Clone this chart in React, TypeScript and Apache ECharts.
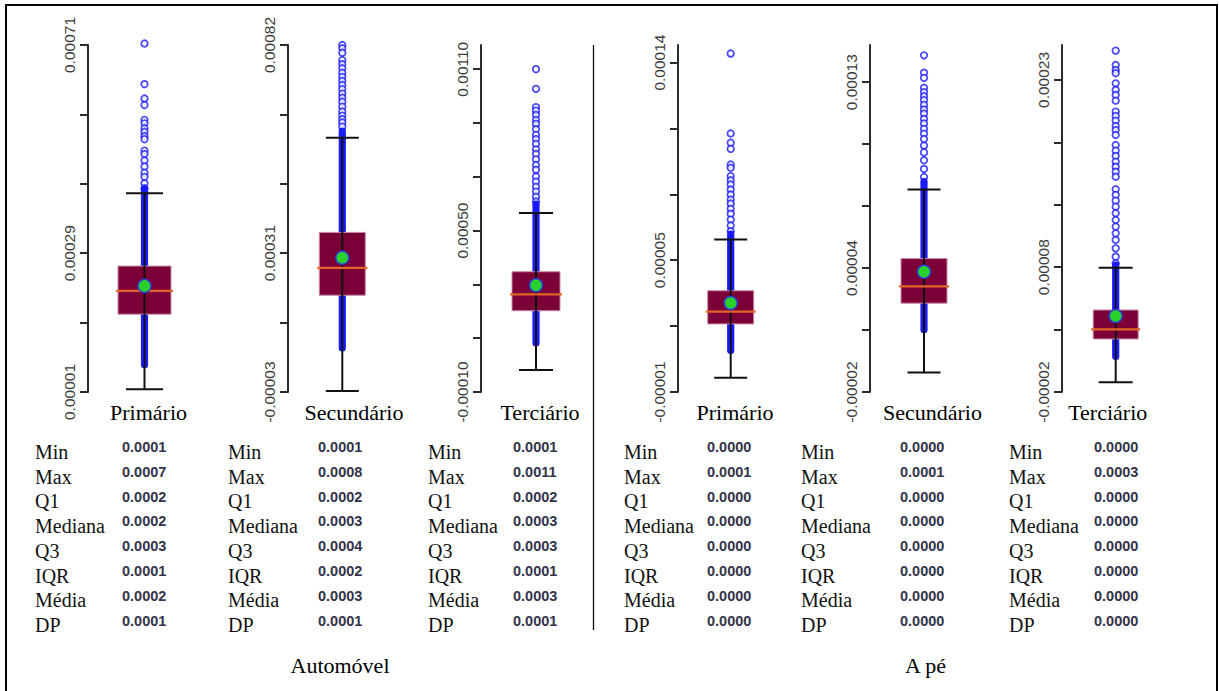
import React, { useEffect, useRef } from "react";
import * as echarts from "echarts";

// ---------- data ----------
const categories = ["Primário", "Secundário", "Terciário"];
const groups = ["Automóvel", "A pé"];
const statNames = ["Min", "Max", "Q1", "Mediana", "Q3", "IQR", "Média", "DP"];

// panel order: Automóvel (Primário, Secundário, Terciário), A pé (Primário, Secundário, Terciário)
const panelCategory = [0, 1, 2, 0, 1, 2];

const yMin = [0.00001, -0.00003, -0.0001, -0.00001, -0.00002, -0.00002];
const yMax = [0.00071, 0.00082, 0.00119, 0.000148, 0.000148, 0.000258];

const tickValues = [
  [0.00001, 0.00015, 0.00029, 0.00043, 0.00057, 0.00071],
  [-0.00003, 0.00014, 0.00031, 0.00048, 0.00065, 0.00082],
  [-0.0001, 0.0001, 0.0003, 0.0005, 0.0007, 0.0009, 0.0011],
  [-0.00001, 0.00002, 0.00005, 0.00008, 0.00011, 0.00014],
  [-0.00002, 0.00001, 0.00004, 0.00007, 0.0001, 0.00013],
  [-0.00002, 0.00003, 0.00008, 0.00013, 0.00018, 0.00023],
];
const labelValues = [
  [0.00001, 0.00029, 0.00071],
  [-0.00003, 0.00031, 0.00082],
  [-0.0001, 0.0005, 0.0011],
  [-0.00001, 0.00005, 0.00014],
  [-0.00002, 0.00004, 0.00013],
  [-0.00002, 0.00008, 0.00023],
];

const lowerWhisker = [0.0000154, -0.0000276, -0.0000182, -0.0000035, -0.0000106, -0.0000122];
const q1 = [0.000167, 0.000207, 0.000202, 0.000021, 0.000023, 0.0000225];
const median = [0.000214, 0.000274, 0.000263, 0.0000266, 0.0000311, 0.0000302];
const mean = [0.000224, 0.000299, 0.000297, 0.0000305, 0.0000382, 0.0000409];
const q3 = [0.000264, 0.000361, 0.000347, 0.0000361, 0.0000446, 0.0000457];
const upperWhisker = [0.000411, 0.000593, 0.000565, 0.0000594, 0.000078, 0.0000796];
// range where the plotted observations overlap into a solid band
const denseLow = [0.0000645, 0.0000775, 0.0000811, 0.0000088, 0.0000101, 0.0000083];
const denseHigh = [0.00042, 0.00061, 0.0006, 0.000062, 0.000082, 0.000082];

const outliersAutoPrimario = [
  0.000713, 0.000631, 0.000602, 0.000589, 0.000559, 0.000552, 0.000542, 0.000535, 0.000526,
  0.00052, 0.000497, 0.00049, 0.000477, 0.000465, 0.000452, 0.000444, 0.000431, 0.000421,
];
const outliersAutoSecundario = [
  0.00082, 0.000812, 0.000801, 0.000783, 0.000773, 0.000763, 0.000752, 0.000742, 0.000732,
  0.000722, 0.000712, 0.000701, 0.000691, 0.000681, 0.000669, 0.000657, 0.000647, 0.000638,
  0.00063, 0.00062,
];
const outliersAutoTerciario = [
  0.0011, 0.001027, 0.000959, 0.000946, 0.00093, 0.000911, 0.000897, 0.000877, 0.000856,
  0.00084, 0.000822, 0.000802, 0.000785, 0.000765, 0.000744, 0.000726, 0.000701, 0.000682,
  0.000663, 0.000645, 0.000626, 0.000608,
];
const outliersPePrimario = [
  0.0001441, 0.0001077, 0.0001035, 0.0001007, 0.0000936, 0.0000921, 0.0000883, 0.0000864,
  0.0000845, 0.0000822, 0.0000799, 0.0000776, 0.0000758, 0.0000734, 0.0000712, 0.0000685,
  0.0000658, 0.0000632,
];
const outliersPeSecundario = [
  0.000143, 0.0001346, 0.0001321, 0.0001273, 0.0001252, 0.0001232, 0.0001213, 0.000119,
  0.0001168, 0.0001148, 0.0001122, 0.00011, 0.0001074, 0.0001051, 0.0001025, 0.0000993,
  0.000096, 0.0000922, 0.000088, 0.0000841,
];
const outliersPeTerciario = [
  0.0002535, 0.000242, 0.000238, 0.0002354, 0.0002273, 0.000222, 0.000218, 0.0002134,
  0.0002046, 0.0002012, 0.0001974, 0.0001931, 0.0001899, 0.0001859, 0.0001779, 0.0001734,
  0.0001691, 0.0001646, 0.0001605, 0.0001565, 0.0001525, 0.0001424, 0.0001379, 0.0001333,
  0.0001285, 0.0001232, 0.0001178, 0.0001125, 0.0001071, 0.0001018, 0.0000951, 0.0000884,
  0.0000831,
];
const outliers = [
  outliersAutoPrimario, outliersAutoSecundario, outliersAutoTerciario,
  outliersPePrimario, outliersPeSecundario, outliersPeTerciario,
];

const statsAutoPrimario = ["0.0001", "0.0007", "0.0002", "0.0002", "0.0003", "0.0001", "0.0002", "0.0001"];
const statsAutoSecundario = ["0.0001", "0.0008", "0.0002", "0.0003", "0.0004", "0.0002", "0.0003", "0.0001"];
const statsAutoTerciario = ["0.0001", "0.0011", "0.0002", "0.0003", "0.0003", "0.0001", "0.0003", "0.0001"];
const statsPePrimario = ["0.0000", "0.0001", "0.0000", "0.0000", "0.0000", "0.0000", "0.0000", "0.0000"];
const statsPeSecundario = ["0.0000", "0.0001", "0.0000", "0.0000", "0.0000", "0.0000", "0.0000", "0.0000"];
const statsPeTerciario = ["0.0000", "0.0003", "0.0000", "0.0000", "0.0000", "0.0000", "0.0000", "0.0000"];
const statValues = [
  statsAutoPrimario, statsAutoSecundario, statsAutoTerciario,
  statsPePrimario, statsPeSecundario, statsPeTerciario,
];

// ---------- layout ----------
const axisX = [88, 288, 481, 678, 870, 1062];
const boxCenterX = [144.5, 342.3, 536, 730.7, 924, 1115.7];
const boxW = [53, 46, 48, 46, 46, 45];
const capW = [37, 33, 34, 33, 33, 34];
const catLabelX = [148.5, 354, 540, 735, 932.5, 1107.7];
const statLabelX = [35, 228, 428, 624, 801, 1009];
const statValueX = [122, 318, 513, 707, 900, 1094];
const groupLabelX = [340, 925.5];
const PLOT_TOP = 45;
const PLOT_H = 347;

const SERIF = "'Liberation Serif', 'Times New Roman', serif";
const SANS = "'Liberation Sans', Arial, sans-serif";

function txt(text: string, x: number, y: number, opts: any) {
  return {
    type: "text",
    x,
    y,
    silent: true,
    style: {
      text,
      fill: opts.fill || "#000",
      fontSize: opts.fontSize,
      fontFamily: opts.fontFamily,
      fontWeight: opts.fontWeight || "normal",
      textAlign: opts.align || "left",
      textVerticalAlign: "middle",
      align: opts.align || "left",
      verticalAlign: "middle",
    },
  };
}

export default function App() {
  const ref = useRef<HTMLDivElement>(null);

  useEffect(() => {
    if (!ref.current) return;
    const chart = echarts.init(ref.current, null, { renderer: "svg" });

    const grids: any[] = [];
    const xAxes: any[] = [];
    const yAxes: any[] = [];
    const series: any[] = [];

    for (let i = 0; i < 6; i++) {
      const w = 2 * (boxCenterX[i] - axisX[i]);
      grids.push({ left: axisX[i], top: PLOT_TOP, width: w, height: PLOT_H });
      xAxes.push({ type: "value", gridIndex: i, min: 0, max: 1, show: false });
      yAxes.push({
        type: "value",
        gridIndex: i,
        min: yMin[i],
        max: yMax[i],
        position: "left",
        axisLine: { show: true, onZero: false, lineStyle: { color: "#2b2b2b", width: 2 } },
        axisTick: {
          show: true,
          customValues: tickValues[i],
          length: 8,
          lineStyle: { color: "#2b2b2b", width: 2 },
        },
        axisLabel: {
          show: true,
          customValues: labelValues[i],
          rotate: 90,
          margin: 11,
          fontSize: 15.5,
          fontFamily: SANS,
          color: "#3c3c3c",
          formatter: (v: number) => v.toFixed(5),
        },
        splitLine: { show: false },
      });
      series.push({
        type: "scatter",
        xAxisIndex: i,
        yAxisIndex: i,
        z: 2,
        clip: false,
        data: outliers[i].map((v) => [0.5, v]),
        symbol: "circle",
        symbolSize: 6.5,
        itemStyle: { color: "#ffffff", borderColor: "#1c1cff", borderWidth: 1.8 },
      });
      const bw = boxW[i];
      const cw = capW[i];
      series.push({
        type: "custom",
        xAxisIndex: i,
        yAxisIndex: i,
        z: 3,
        clip: false,
        data: [[0.5, lowerWhisker[i], q1[i], median[i], q3[i], upperWhisker[i], mean[i], denseLow[i], denseHigh[i]]],
        encode: { x: 0, y: [1, 2, 3, 4, 5, 6, 7, 8] },
        renderItem: (_params: any, api: any) => {
          const cx = api.coord([api.value(0), api.value(1)])[0];
          const y = (k: number) => api.coord([api.value(0), api.value(k)])[1];
          const yLw = y(1), yQ1 = y(2), yMed = y(3), yQ3 = y(4), yUw = y(5), yMean = y(6), yDl = y(7), yDh = y(8);
          return {
            type: "group",
            children: [
              {
                type: "rect",
                shape: { x: cx - 3.6, y: yDh - 3.3, width: 7.2, height: yDl - yDh + 6.6, r: 3.5 },
                style: { fill: "#1a1aff" },
              },
              {
                type: "rect",
                shape: { x: cx - bw / 2, y: yQ3, width: bw, height: yQ1 - yQ3 },
                style: { fill: "#7b0037", stroke: "#c88aa8", lineWidth: 1 },
              },
              { type: "line", shape: { x1: cx, y1: yLw, x2: cx, y2: yUw }, style: { stroke: "#111", lineWidth: 2 } },
              { type: "line", shape: { x1: cx - cw / 2, y1: yLw, x2: cx + cw / 2, y2: yLw }, style: { stroke: "#111", lineWidth: 2 } },
              { type: "line", shape: { x1: cx - cw / 2, y1: yUw, x2: cx + cw / 2, y2: yUw }, style: { stroke: "#111", lineWidth: 2 } },
              {
                type: "line",
                shape: { x1: cx - bw / 2 - 2, y1: yMed, x2: cx + bw / 2 + 2, y2: yMed },
                style: { stroke: "#e2652a", lineWidth: 2.2 },
              },
              {
                type: "circle",
                shape: { cx, cy: yMean, r: 6.5 },
                style: { fill: "#2bd12b", stroke: "#2a3fd6", lineWidth: 1.5 },
              },
            ],
          };
        },
      });
    }

    const elements: any[] = [];
    // outer frame
    elements.push({
      type: "rect",
      shape: { x: 6, y: 5, width: 1211, height: 700 },
      style: { fill: "none", stroke: "#000", lineWidth: 2 },
      silent: true,
    });
    // separator
    elements.push({
      type: "line",
      shape: { x1: 593.5, y1: 45, x2: 593.5, y2: 630 },
      style: { stroke: "#111", lineWidth: 1.3 },
      silent: true,
    });
    for (let i = 0; i < 6; i++) {
      elements.push(txt(categories[panelCategory[i]], catLabelX[i], 412, { fontSize: 22, fontFamily: SERIF, align: "center", fill: "#000" }));
      for (let r = 0; r < statNames.length; r++) {
        elements.push(txt(statNames[r], statLabelX[i], 452 + r * 24.7, { fontSize: 20, fontFamily: SERIF, fill: "#111" }));
        elements.push(txt(statValues[i][r], statValueX[i], 446.7 + r * 24.9, { fontSize: 14.5, fontFamily: SANS, fontWeight: "bold", fill: "#33334a" }));
      }
    }
    for (let g = 0; g < groups.length; g++) {
      elements.push(txt(groups[g], groupLabelX[g], 665, { fontSize: 22, fontFamily: SERIF, align: "center", fill: "#000" }));
    }

    chart.setOption({
      animation: false,
      backgroundColor: "#ffffff",
      grid: grids,
      xAxis: xAxes,
      yAxis: yAxes,
      series,
      graphic: { elements },
    });

    return () => chart.dispose();
  }, []);

  return (
    <div
      ref={ref}
      style={{ position: "fixed", left: 0, top: 0, width: 1219, height: 691, background: "#fff" }}
    />
  );
}
